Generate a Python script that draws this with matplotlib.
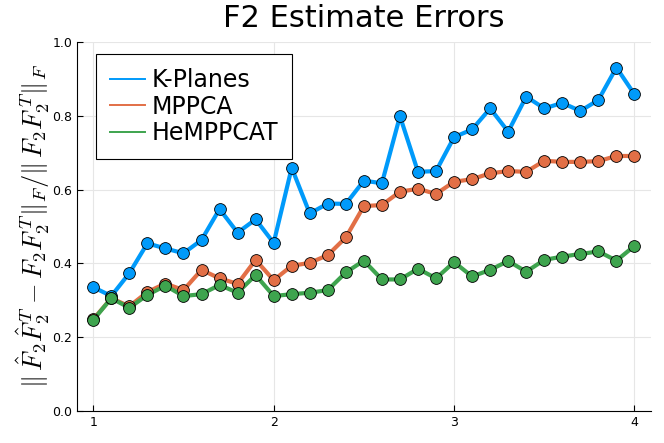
import numpy as np
import matplotlib
matplotlib.use('Agg')
from matplotlib import pyplot as plt

# sigma values on the x axis
sigma = [1.0, 1.1, 1.2, 1.3, 1.4, 1.5, 1.6, 1.7, 1.8, 1.9,
         2.0, 2.1, 2.2, 2.3, 2.4, 2.5, 2.6, 2.7, 2.8, 2.9,
         3.0, 3.1, 3.2, 3.3, 3.4, 3.5, 3.6, 3.7, 3.8, 3.9, 4.0]

kplanes = [0.335, 0.311, 0.373, 0.454, 0.440, 0.427, 0.463, 0.547, 0.483, 0.519,
           0.455, 0.659, 0.535, 0.562, 0.561, 0.624, 0.617, 0.799, 0.648, 0.650,
           0.742, 0.763, 0.820, 0.757, 0.852, 0.820, 0.835, 0.813, 0.843, 0.931, 0.858]

mppca = [0.248, 0.305, 0.283, 0.322, 0.345, 0.327, 0.382, 0.359, 0.344, 0.409,
         0.354, 0.393, 0.401, 0.422, 0.470, 0.555, 0.558, 0.594, 0.602, 0.588,
         0.621, 0.628, 0.644, 0.650, 0.648, 0.678, 0.675, 0.675, 0.677, 0.691, 0.691]

hemppcat = [0.246, 0.305, 0.279, 0.314, 0.339, 0.311, 0.316, 0.341, 0.320, 0.368,
            0.311, 0.316, 0.320, 0.327, 0.375, 0.407, 0.356, 0.356, 0.385, 0.359,
            0.403, 0.364, 0.382, 0.406, 0.377, 0.409, 0.418, 0.425, 0.432, 0.407, 0.447]

series = [('K-Planes', kplanes, '#009AFA'),
          ('MPPCA', mppca, '#E26F46'),
          ('HeMPPCAT', hemppcat, '#3EA44E')]

plt.rcParams['mathtext.fontset'] = 'cm'

fig = plt.figure(figsize=(6.64, 4.43), dpi=100)
ax = fig.add_axes([0.116, 0.073, 0.864, 0.832])

for name, vals, col in series:
    ax.plot(sigma, vals, color=col, lw=3.0, zorder=3)
    # thin line only for the legend entry
    ax.plot([], [], color=col, lw=1.4, label=name)
for name, vals, col in series:
    ax.plot(sigma, vals, ls='none', marker='o', ms=8.5, mfc=col,
            mec='black', mew=0.6, zorder=4)

ax.set_xlim(0.91, 4.09)
ax.set_ylim(0, 1)
ax.set_xticks([1, 2, 3, 4])
ax.set_yticks([0.0, 0.2, 0.4, 0.6, 0.8, 1.0])
ax.set_yticklabels(['0.0', '0.2', '0.4', '0.6', '0.8', '1.0'])
ax.grid(True, color='#e6e6e6', lw=0.8)
ax.set_axisbelow(True)
for s in ['top', 'right']:
    ax.spines[s].set_visible(False)
ax.tick_params(direction='in', labelsize=9, length=4)

ax.set_title('F2 Estimate Errors', fontsize=22, pad=11)
ax.set_ylabel(r'$\Vert\,\hat{F}_2\hat{F}_2^{\,T} - F_2F_2^{\,T}\Vert_F/\Vert\,F_2F_2^{\,T}\Vert_F$',
              fontsize=19, labelpad=0)

leg = ax.legend(loc='upper left', bbox_to_anchor=(0.0326, 0.9675), fontsize=17,
                fancybox=False, edgecolor='black', framealpha=1,
                borderaxespad=0, handlelength=1.5, handletextpad=0.25,
                borderpad=0.6, labelspacing=0.1)
leg.get_frame().set_linewidth(0.8)

fig.savefig('out.png', dpi=100)
